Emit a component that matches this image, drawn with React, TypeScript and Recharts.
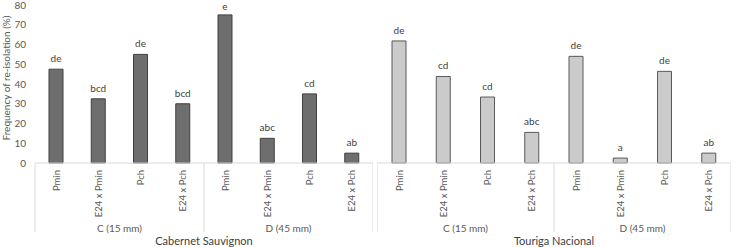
import { BarChart, Bar, XAxis, YAxis, LabelList } from "recharts";

const treatments = ["Pmin", "E24 x Pmin", "Pch", "E24 x Pch"];
const groups = ["C (15 mm)", "D (45 mm)"];
const varieties = ["Cabernet Sauvignon", "Touriga Nacional"];

const cabernetValues = [47.5, 32.5, 55, 30, 75, 12.5, 35, 5];
const cabernetLetters = ["de", "bcd", "de", "bcd", "e", "abc", "cd", "ab"];

const tourigaValues = [61.8, 43.8, 33.4, 15.5, 54, 2.5, 46.4, 5];
const tourigaLetters = ["de", "cd", "cd", "abc", "de", "a", "de", "ab"];

const yTicks = [0, 10, 20, 30, 40, 50, 60, 70, 80];

const FONT = "Lato, 'Open Sans', sans-serif";
const TEXT = "#595959";
const LINE = "#d9d9d9";

type Row = { key: string; treatment: string; group: string; value: number; letter: string };

function buildRows(values: number[], letters: string[]): Row[] {
  return values.map((v, i) => {
    const group = groups[Math.floor(i / treatments.length)];
    const treatment = treatments[i % treatments.length];
    return { key: `${group}|${treatment}|${i}`, treatment, group, value: v, letter: letters[i] };
  });
}

function makeTick(rows: Row[], variety: string, band: number) {
  return (props: any) => {
    const { x, y } = props;
    const index = props.index ?? props.payload?.index ?? 0;
    const row = rows[index];
    const half = band / 2;
    const ty = y + 7;
    return (
      <g>
        <text
          x={x}
          y={ty}
          transform={`rotate(-90 ${x} ${ty})`}
          textAnchor="end"
          dominantBaseline="central"
          fontSize={9.5}
          fontFamily={FONT}
          fill={TEXT}
        >
          {row.treatment}
        </text>
        {index % 4 === 0 && <line x1={x - half} x2={x - half} y1={y} y2={y + 69} stroke={LINE} />}
        {index === rows.length - 1 && <line x1={x + half} x2={x + half} y1={y} y2={y + 69} stroke={LINE} />}
        {index % 4 === 1 && (
          <text x={x + half} y={y + 65} textAnchor="middle" dominantBaseline="central" fontSize={10} fontFamily={FONT} fill={TEXT}>
            {row.group}
          </text>
        )}
        {index === 3 && (
          <text x={x + half} y={y + 77} textAnchor="middle" dominantBaseline="central" fontSize={11} fontFamily={FONT} fill="#404040">
            {variety}
          </text>
        )}
      </g>
    );
  };
}

// letters above the bars; kept inside the picture when a bar reaches the top
const renderLetter = (p: any) => {
  const { x, y, width, value } = p;
  const ty = Math.max(y - 7, 10);
  return (
    <text x={x + width / 2} y={ty} textAnchor="middle" fontSize={10} fontFamily={FONT} fill="#404040">
      {value}
    </text>
  );
};

interface VarietyChartProps {
  rows: Row[];
  variety: string;
  width: number;
  left: number;
  showYAxis: boolean;
  fill: string;
  stroke: string;
}

function VarietyChart({ rows, variety, width, left, showYAxis, fill, stroke }: VarietyChartProps) {
  const yAxisWidth = showYAxis ? 35 : 0;
  const band = (width - yAxisWidth) / rows.length;
  return (
    <div style={{ position: "absolute", left, top: 0 }}>
      <BarChart width={width} height={247} data={rows} margin={{ top: 5, right: 0, bottom: 0, left: 0 }} barSize={14}>
        <XAxis
          dataKey="key"
          height={84}
          interval={0}
          tickSize={0}
          tickMargin={0}
          axisLine={{ stroke: LINE }}
          tickLine={false}
          tick={makeTick(rows, variety, band)}
        />
        <YAxis
          hide={!showYAxis}
          width={yAxisWidth}
          domain={[0, 80]}
          ticks={yTicks}
          interval={0}
          axisLine={false}
          tickLine={false}
          tickSize={0}
          tickMargin={9}
          tick={{ fontSize: 10, fill: TEXT, fontFamily: FONT }}
          label={{
            content: (p: any) => {
              const vb = p.viewBox || { x: 0, y: 5, height: 158 };
              const cx = vb.x + 6;
              const cy = vb.y + vb.height / 2 - 6;
              return (
                <text
                  x={cx}
                  y={cy}
                  transform={`rotate(-90 ${cx} ${cy})`}
                  textAnchor="middle"
                  dominantBaseline="central"
                  fontSize={10}
                  fontFamily={FONT}
                  fill={TEXT}
                >
                  Frequency of re-isolation (%)
                </text>
              );
            },
          }}
        />
        <Bar dataKey="value" fill={fill} stroke={stroke} strokeWidth={1} isAnimationActive={false}>
          <LabelList dataKey="letter" content={renderLetter} />
        </Bar>
      </BarChart>
    </div>
  );
}

export default function App() {
  const cabernetRows = buildRows(cabernetValues, cabernetLetters);
  const tourigaRows = buildRows(tourigaValues, tourigaLetters);
  return (
    <div style={{ position: "absolute", left: 0, top: 0, width: 733, height: 247, background: "#fff", fontFamily: FONT }}>
      <VarietyChart rows={cabernetRows} variety={varieties[0]} width={373} left={0} showYAxis fill="#6e6e6e" stroke="#404040" />
      <VarietyChart rows={tourigaRows} variety={varieties[1]} width={354} left={377} showYAxis={false} fill="#cbcbcb" stroke="#595959" />
    </div>
  );
}
